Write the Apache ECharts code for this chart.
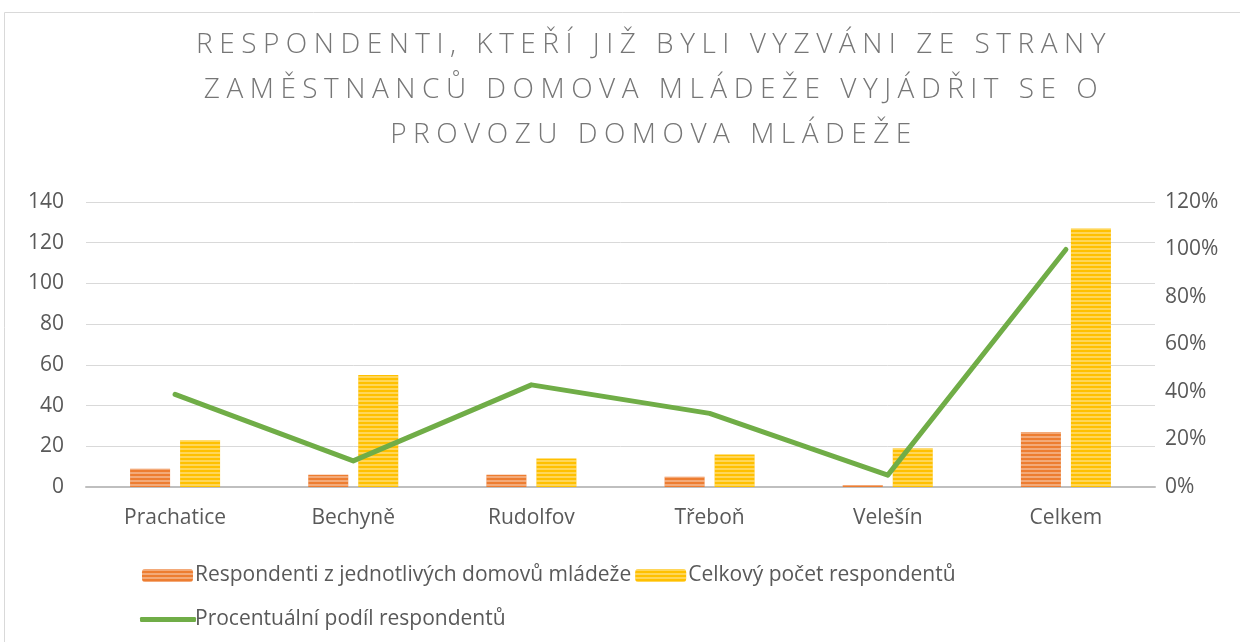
<!DOCTYPE html>
<html>
<head>
<meta charset="utf-8">
<script src="https://cdn.jsdelivr.net/npm/echarts@6/dist/echarts.min.js"></script>
<style>
    html, body { margin: 0; padding: 0; background: #fff; }
    .wrap { position: relative; width: 1240px; height: 642px; }
    #chart { width: 1240px; height: 642px; }
    .chart-title {
        position: absolute;
        left: 0;
        top: 20px;
        width: 1308px;
        text-align: center;
        font-family: 'Open Sans', 'DejaVu Sans', sans-serif;
        font-weight: 300;
        font-size: 28px;
        line-height: 45px;
        letter-spacing: 6.5px;
        color: #767676;
        pointer-events: none;
    }
</style>
</head>
<body>
<div class="wrap">
    <div id="chart"></div>
    <div class="chart-title" id="title"></div>
</div>
<script>
// data
var categories = ["Prachatice", "Bechyně", "Rudolfov", "Třeboň", "Velešín", "Celkem"];
var homeRespondents = [9, 6, 6, 5, 1, 27];
var totalRespondents = [23, 55, 14, 16, 19, 127];
var shareRespondents = [0.39, 0.11, 0.43, 0.31, 0.05, 1.0];
var leftTicks = [0, 140, 20];
var rightTicks = [0, 1.2, 0.2];

var seriesNames = [
    "Respondenti z jednotlivých domovů mládeže",
    "Celkový počet respondentů",
    "Procentuální podíl respondentů"
];
var titleLines = [
    "RESPONDENTI, KTEŘÍ JIŽ BYLI VYZVÁNI ZE STRANY",
    "ZAMĚSTNANCŮ DOMOVA MLÁDEŽE VYJÁDŘIT SE O",
    "PROVOZU DOMOVA MLÁDEŽE"
];

// title kept as html text because of the wide letter spacing
document.getElementById("title").innerHTML = titleLines.join("<br>");

var font = "'Open Sans', 'DejaVu Sans', sans-serif";
var textColor = "#595959";

var stripes = {
    symbol: "rect",
    symbolSize: 1,
    color: "rgba(255,255,255,0.35)",
    dashArrayX: [[1, 0]],
    dashArrayY: [2, 2],
    rotation: 0
};

var myChart = echarts.init(document.getElementById("chart"));

var option = {
    backgroundColor: "#fff",
    animation: false,
    graphic: [{
        type: "rect",
        shape: { x: 4.5, y: 12.5, width: 1400, height: 800 },
        style: { fill: null, stroke: "#d9d9d9", lineWidth: 1 },
        silent: true
    }],
    legend: [
        {
            data: [seriesNames[0], seriesNames[1]],
            left: 137,
            top: 560,
            itemWidth: 51,
            itemHeight: 13,
            itemGap: 4,
            textStyle: { fontFamily: font, fontSize: 21, color: textColor, padding: [0, 0, 0, -3] }
        },
        {
            data: [{ name: seriesNames[2], icon: "roundRect" }],
            left: 135,
            top: 604,
            itemWidth: 56,
            itemHeight: 5,
            textStyle: { fontFamily: font, fontSize: 21, color: textColor, padding: [0, 0, 0, -6] }
        }
    ],
    grid: {
        left: 86,
        right: 85,
        top: 202,
        bottom: 155
    },
    xAxis: {
        type: "category",
        data: categories,
        axisTick: { show: false },
        axisLine: { lineStyle: { color: "#bfbfbf", width: 2 } },
        axisLabel: { margin: 21, fontFamily: font, fontSize: 21, color: textColor }
    },
    yAxis: [
        {
            type: "value",
            min: leftTicks[0],
            max: leftTicks[1],
            interval: leftTicks[2],
            axisLine: { show: false },
            axisTick: { show: false },
            splitLine: { lineStyle: { color: "#d9d9d9", width: 1 } },
            axisLabel: { margin: 22, fontFamily: font, fontSize: 21, color: textColor }
        },
        {
            type: "value",
            min: rightTicks[0],
            max: rightTicks[1],
            interval: rightTicks[2],
            axisLine: { show: false },
            axisTick: { show: false },
            splitLine: { show: false },
            axisLabel: {
                margin: 10,
                fontFamily: font,
                fontSize: 21,
                color: textColor,
                formatter: function (v) {
                    return Math.round(v * 100) + "%";
                }
            }
        }
    ],
    series: [
        {
            name: seriesNames[0],
            type: "bar",
            barWidth: 40,
            barGap: "25%",
            itemStyle: { color: "#ED7D31", decal: stripes },
            data: homeRespondents
        },
        {
            name: seriesNames[1],
            type: "bar",
            barWidth: 40,
            itemStyle: { color: "#FFC000", decal: stripes },
            data: totalRespondents
        },
        {
            name: seriesNames[2],
            type: "line",
            yAxisIndex: 1,
            symbol: "none",
            lineStyle: { color: "#70AD47", width: 5, cap: "round", join: "round" },
            itemStyle: { color: "#70AD47" },
            data: shareRespondents
        }
    ]
};

myChart.setOption(option);
window.addEventListener("resize", function () {
    myChart.resize();
});
</script>
</body>
</html>
